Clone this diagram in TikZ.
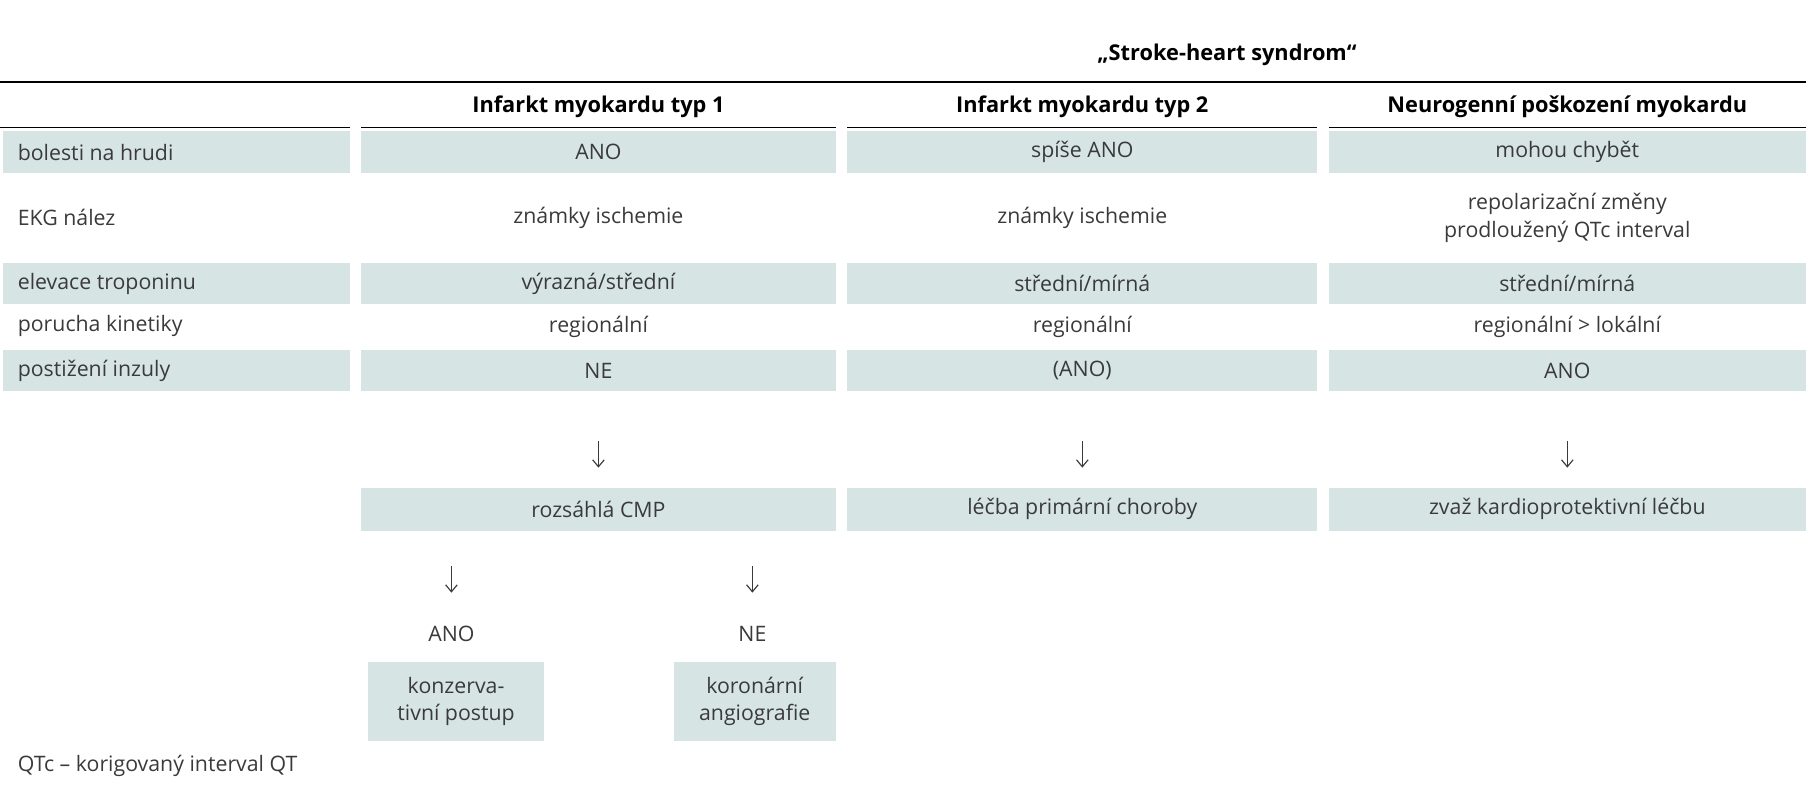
\documentclass[tikz,border=0pt]{standalone}
\usepackage{fontspec}
\setmainfont{Open Sans}
\usetikzlibrary{arrows.meta}
\definecolor{sh}{HTML}{D6E4E4}
\definecolor{tx}{HTML}{3a3a3a}
\begin{document}
\begin{tikzpicture}[x=0.5pt,y=-0.5pt,font=\fontsize{9.2}{12}\selectfont\color{tx},
 cell/.style={fill=sh,inner sep=0pt,minimum height=18.5pt,align=center},
 wcell/.style={inner sep=0pt,align=center},
 lab/.style={inner sep=0pt,anchor=west},
 hd/.style={inner sep=0pt,font=\fontsize{9.4}{12}\selectfont\bfseries\color{black}},
 ar/.style={-{Straight Barb[length=3pt,width=5pt]},line width=0.5pt,tx}]
\useasboundingbox (0,0) rectangle (1568,691);
\node[hd] (title) at (1060,47) {„Stroke-heart syndrom“};
\draw[line width=0.7pt] (0,71) coordinate (l0) -- (1560,71) coordinate (l1);
\foreach \a/\b [count=\i] in {0/302,312/722,732/1138,1148/1560}
  \draw[line width=0.7pt] (\a,110) coordinate (h\i a) -- (\b,110) coordinate (h\i b);
\node[hd] (h1) at (517,92) {Infarkt myokardu typ 1};
\node[hd] (h2) at (935,92) {Infarkt myokardu typ 2};
\node[hd] (h3) at (1354,92) {Neurogenní poškození myokardu};
\foreach \y/\n in {131.5/1,245/3,320/5}{
  \fill[sh] (3,\y-18) rectangle (302,\y+18);
  \fill[sh] (312,\y-18) rectangle (722,\y+18);
  \fill[sh] (732,\y-18) rectangle (1138,\y+18);
  \fill[sh] (1148,\y-18) rectangle (1560,\y+18);}
\node[lab] (r1) at (15,131.5) {bolesti na hrudi};
\node[lab] (r2) at (15,188) {EKG nález};
\node[lab] (r3) at (15,245) {elevace troponinu};
\node[lab] (r4) at (15,282) {porucha kinetiky};
\node[lab] (r5) at (15,320) {postižení inzuly};
\node[wcell] (a1) at (517,131.5) {ANO};
\node[wcell] (b1) at (935,131.5) {spíše ANO};
\node[wcell] (c1) at (1354,131.5) {mohou chybět};
\node[wcell] (a2) at (517,188) {známky ischemie};
\node[wcell] (b2) at (935,188) {známky ischemie};
\node[wcell] (c2) at (1354,188) {repolarizační změny\\prodloužený QTc interval};
\node[wcell] (a3) at (517,245) {výrazná/střední};
\node[wcell] (b3) at (935,245) {střední/mírná};
\node[wcell] (c3) at (1354,245) {střední/mírná};
\node[wcell] (a4) at (517,282) {regionální};
\node[wcell] (b4) at (935,282) {regionální};
\node[wcell] (c4) at (1354,282) {regionální > lokální};
\node[wcell] (a5) at (517,320) {NE};
\node[wcell] (b5) at (935,320) {(ANO)};
\node[wcell] (c5) at (1354,320) {ANO};
\node[cell,minimum width=205pt] (ra) at (517,440) {rozsáhlá CMP};
\node[cell,minimum width=203pt] (rb) at (935,440) {léčba primární choroby};
\node[cell,minimum width=206pt] (rc) at (1354,440) {zvaž kardioprotektivní léčbu};
\foreach \x/\n in {517/a,935/b,1354/c}{
  \coordinate (s\n) at (\x,381); \coordinate (e\n) at (\x,404);
  \draw[ar] (s\n) -- (e\n);}
\coordinate (sd) at (390,489); \coordinate (ed) at (390,512);
\coordinate (se) at (650,489); \coordinate (ee) at (650,512);
\draw[ar] (sd) -- (ed);
\draw[ar] (se) -- (ee);
\node[wcell] (ano) at (390,548) {ANO};
\node[wcell] (ne) at (650,548) {NE};
\node[cell,minimum width=76pt,minimum height=34pt] (k1) at (394,606) {konzerva-\\tivní postup};
\node[cell,minimum width=70pt,minimum height=34pt] (k2) at (652,606) {koronární\\angiografie};
\node[lab] (foot) at (15,662) {QTc – korigovaný interval QT};
\end{tikzpicture}
\end{document}
